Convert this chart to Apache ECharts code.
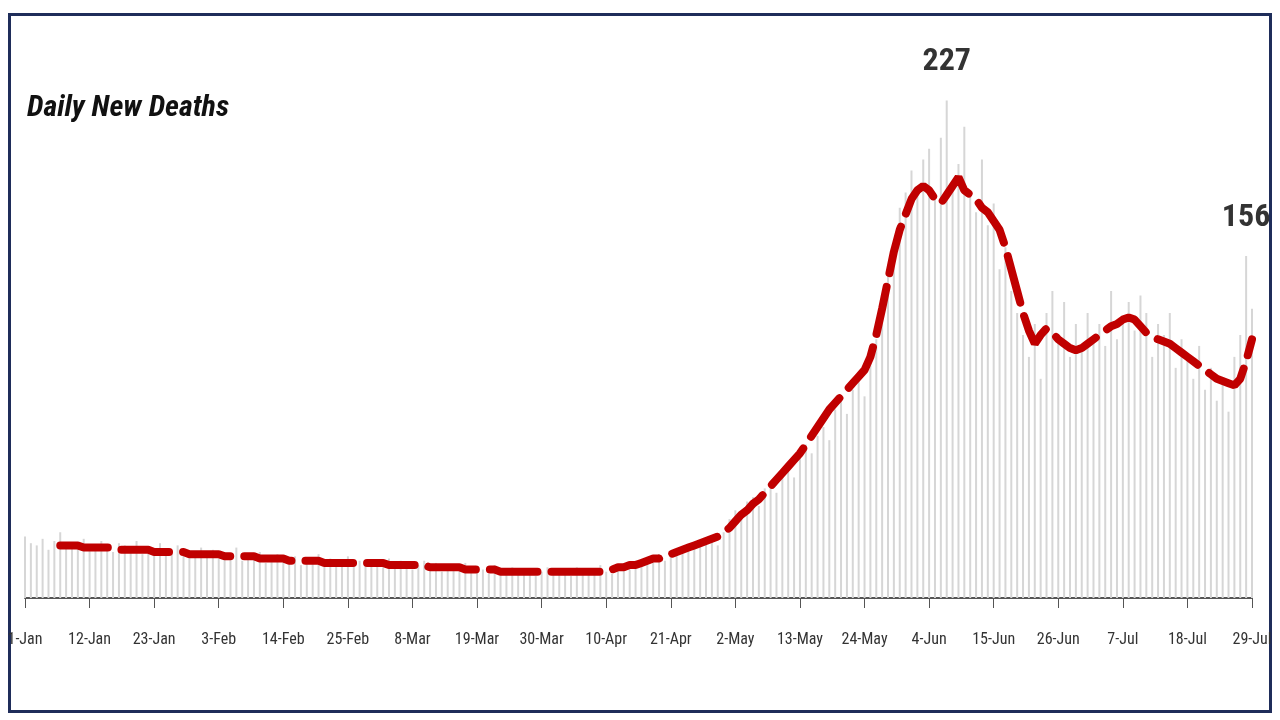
<!DOCTYPE html>
<html><head><meta charset="utf-8">
<script src="https://cdn.jsdelivr.net/npm/echarts@6/dist/echarts.min.js"></script>
<style>html,body{margin:0;background:#fff}#frame{position:absolute;left:8px;top:13px;width:1264px;height:700px;border:3px solid #1f2d5a;box-sizing:border-box}#c{position:absolute;left:0;top:0;width:1280px;height:720px}</style>
</head><body><div id="frame"></div><div id="c"></div>
<script>
const tickLabels=['1-Jan','12-Jan','23-Jan','3-Feb','14-Feb','25-Feb','8-Mar','19-Mar','30-Mar','10-Apr','21-Apr','2-May','13-May','24-May','4-Jun','15-Jun','26-Jun','7-Jul','18-Jul','29-Jul'];
const daily=[28,25,24,27,22,26,30,24,23,25,27,22,24,26,23,21,25,24,22,26,20,23,22,25,21,20,24,22,19,21,23,
20,22,18,21,19,23,17,20,18,21,16,19,20,17,18,19,15,18,17,20,16,18,15,17,19,16,17,15,
17,16,14,18,15,17,16,13,15,17,14,16,12,15,14,13,16,12,14,13,11,15,12,13,14,11,12,13,10,12,14,
11,13,12,10,14,12,11,13,15,12,11,14,16,13,17,15,18,16,20,17,19,22,21,24,23,26,25,28,24,30,
36,40,38,44,46,42,50,53,48,56,60,55,64,70,66,74,78,72,86,90,84,95,100,92,108,118,130,148,160,178,185,
195,188,200,205,182,210,227,190,198,215,185,176,200,170,180,150,160,140,130,120,110,125,100,130,140,120,135,110,125,115,
130,120,125,115,140,118,128,135,122,138,130,110,125,120,130,105,118,110,100,115,95,105,90,100,85,110,120,156,132];
const avg=[null,null,null,null,null,null,
24,24,24,24,23,23,23,23,23,23,22,22,22,22,22,22,21,21,21,21,21,21,20,20,20,
20,20,20,19,19,19,19,19,19,18,18,18,18,18,17,17,17,17,17,17,16,16,16,16,16,16,16,16,
16,16,16,15,15,15,15,15,15,15,14,14,14,14,14,14,13,13,13,13,13,13,12,12,12,12,12,12,12,12,12,
12,12,12,12,12,12,12,12,12,13,13,14,14,15,15,16,17,18,18,19,20,21,22,23,24,25,26,27,28,30,
32,35,38,40,43,45,48,51,54,57,60,63,66,70,74,78,82,86,89,92,95,98,101,104,110,120,132,145,158,168,175,
182,186,188,186,182,180,184,188,192,186,184,182,178,176,172,168,160,150,140,130,122,116,120,123,121,118,116,114,113,114,
116,118,120,122,124,125,127,128,127,124,121,119,118,117,116,114,112,110,108,106,104,102,100,99,98,97,100,108,118];
const labelIdx=[157,208];
const ch=echarts.init(document.getElementById('c'));
const nf='"Liberation Sans Narrow","Roboto Condensed","Liberation Sans",sans-serif';
ch.setOption({
 animation:false,
 title:{text:'Daily New Deaths',left:22,top:88,textStyle:{fontFamily:nf,fontStyle:'italic',fontWeight:'bold',fontSize:30,color:'#111'}},
 grid:{left:25,right:28,top:50,bottom:122},
 xAxis:{type:'value',min:0,max:209,interval:11,splitLine:{show:false},
  axisLine:{lineStyle:{color:'#555',width:2}},axisTick:{show:true,length:10,lineStyle:{color:'#555'}},
  axisLabel:{margin:34,fontFamily:nf,fontSize:16,color:'#333',formatter:v=>tickLabels[Math.round(v/11)]||''}},
 yAxis:{type:'value',min:0,max:250,show:false,splitLine:{show:false}},
 series:[
  {type:'bar',barWidth:2,data:daily.map((v,i)=>[i,v]),itemStyle:{color:'#d6d6d6'},
   label:{show:true,position:'top',distance:22,fontFamily:nf,fontWeight:'bold',fontSize:32,color:'#333',
    formatter:p=>labelIdx.includes(p.dataIndex)?String(p.value[1]):''}},
  {type:'line',data:avg.map((v,i)=>[i,v]),showSymbol:false,symbol:'none',smooth:false,
   lineStyle:{color:'#c00000',width:8,type:[48,14],cap:'round'}}
 ]
});
</script></body></html>
